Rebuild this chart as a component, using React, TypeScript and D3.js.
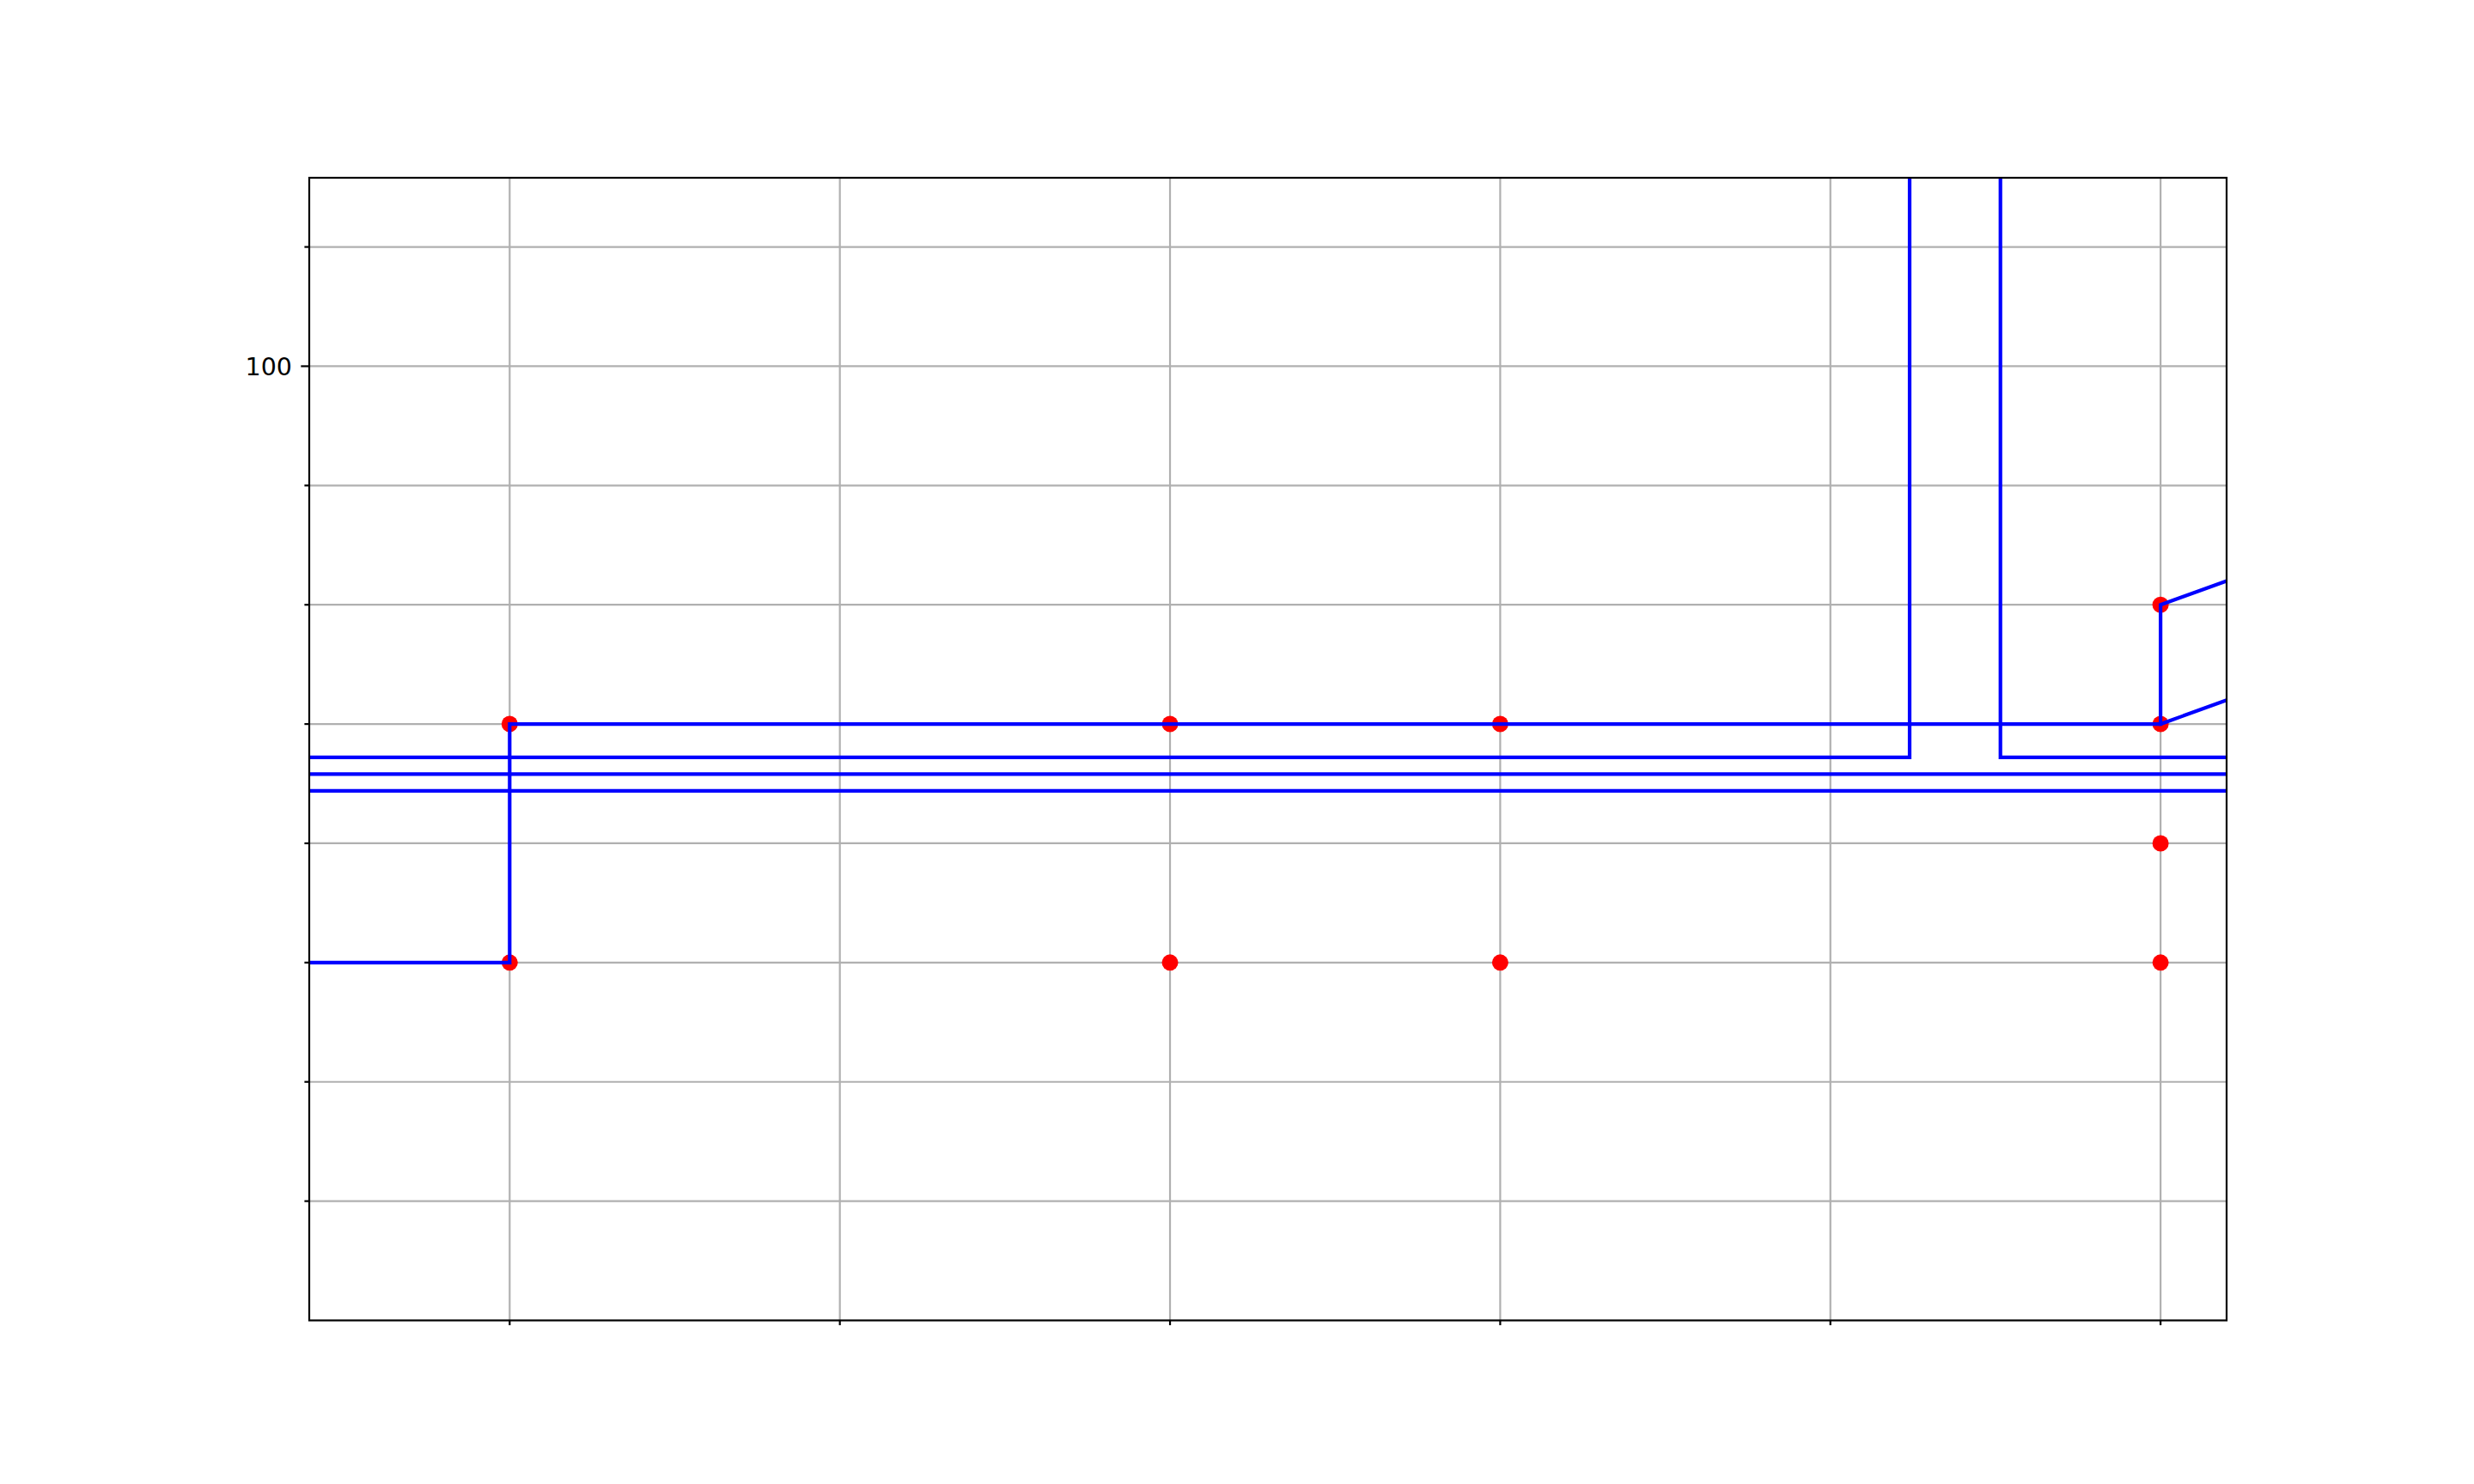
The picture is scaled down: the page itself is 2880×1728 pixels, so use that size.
import React from 'react';
import * as d3 from 'd3';

// tick positions (x has no labels, y only labels 100)
const xTicks = [0, 1, 2, 3, 4, 5];
const yMajorTicks = [100];
const yMinorTicks = [93, 94, 95, 96, 97, 98, 99, 101];
const xDomain = [-0.607, 5.2];
const yDomain = [92, 101.58];

// red markers
const pointX = [0, 0, 2, 2, 3, 3, 5, 5, 5, 5];
const pointY = [97, 95, 97, 95, 97, 95, 98, 97, 96, 95];

// blue lines
const stepX = [-1, 0, 0, 5, 6];
const stepY = [95, 95, 97, 97, 98];
const riseX = [5, 5, 6];
const riseY = [97, 98, 99];
const spikeX = [-1, 4.24, 4.24, 4.515, 4.515, 6];
const spikeY = [96.72, 96.72, 110, 110, 96.72, 96.72];
const levelA = [96.58, 96.58];
const levelB = [96.44, 96.44];
const levelX = [-1, 6];

const W = 2880;
const H = 1728;
const margin = { top: 207, right: 288, bottom: 190.5, left: 360 };

const App = () => {
  const innerW = W - margin.left - margin.right;
  const innerH = H - margin.top - margin.bottom;

  const x = d3.scaleLinear().domain(xDomain).range([0, innerW]);
  const y = d3.scaleLinear().domain(yDomain).range([innerH, 0]);

  const line = d3.line<[number, number]>()
    .x(d => x(d[0]))
    .y(d => y(d[1]));

  const zip = (xs: number[], ys: number[]) => xs.map((v, i) => [v, ys[i]] as [number, number]);

  const series = [
    zip(stepX, stepY),
    zip(riseX, riseY),
    zip(spikeX, spikeY),
    zip(levelX, levelA),
    zip(levelX, levelB),
  ];

  const gridColor = '#b0b0b0';
  const allY = [...yMajorTicks, ...yMinorTicks];

  return (
    <div style={{ position: 'absolute', left: 0, top: 0 }}>
      <svg width={W} height={H} style={{ display: 'block', background: '#fff' }}>
        <defs>
          <clipPath id="plot-clip">
            <rect x={0} y={0} width={innerW} height={innerH} />
          </clipPath>
        </defs>
        <g transform={`translate(${margin.left},${margin.top})`}>
          {/* grid */}
          {xTicks.map(t => (
            <line key={'gx' + t} x1={x(t)} x2={x(t)} y1={0} y2={innerH} stroke={gridColor} strokeWidth={2.2} />
          ))}
          {allY.map(t => (
            <line key={'gy' + t} x1={0} x2={innerW} y1={y(t)} y2={y(t)} stroke={gridColor} strokeWidth={2.2} />
          ))}

          <g clipPath="url(#plot-clip)">
            {pointX.map((px, i) => (
              <circle key={'p' + i} cx={x(px)} cy={y(pointY[i])} r={9.5} fill="#ff0000" />
            ))}
            {series.map((s, i) => (
              <path key={'l' + i} d={line(s) || ''} fill="none" stroke="#0000ff" strokeWidth={4.2}
                strokeLinejoin="miter" strokeLinecap="square" />
            ))}
          </g>

          {/* ticks */}
          {xTicks.map(t => (
            <line key={'tx' + t} x1={x(t)} x2={x(t)} y1={innerH} y2={innerH + 5.6} stroke="#000" strokeWidth={2.2} />
          ))}
          {yMinorTicks.map(t => (
            <line key={'tym' + t} x1={-5.6} x2={0} y1={y(t)} y2={y(t)} stroke="#000" strokeWidth={2.2} />
          ))}
          {yMajorTicks.map(t => (
            <g key={'tyM' + t}>
              <line x1={-9.7} x2={0} y1={y(t)} y2={y(t)} stroke="#000" strokeWidth={2.2} />
              <text x={-20} y={y(t)} dy="0.36em" textAnchor="end"
                style={{ fontFamily: 'DejaVu Sans', fontSize: 28.5 }} fill="#000">{t}</text>
            </g>
          ))}

          {/* frame */}
          <rect x={0} y={0} width={innerW} height={innerH} fill="none" stroke="#000" strokeWidth={2.2} />
        </g>
      </svg>
    </div>
  );
};

export default App;
